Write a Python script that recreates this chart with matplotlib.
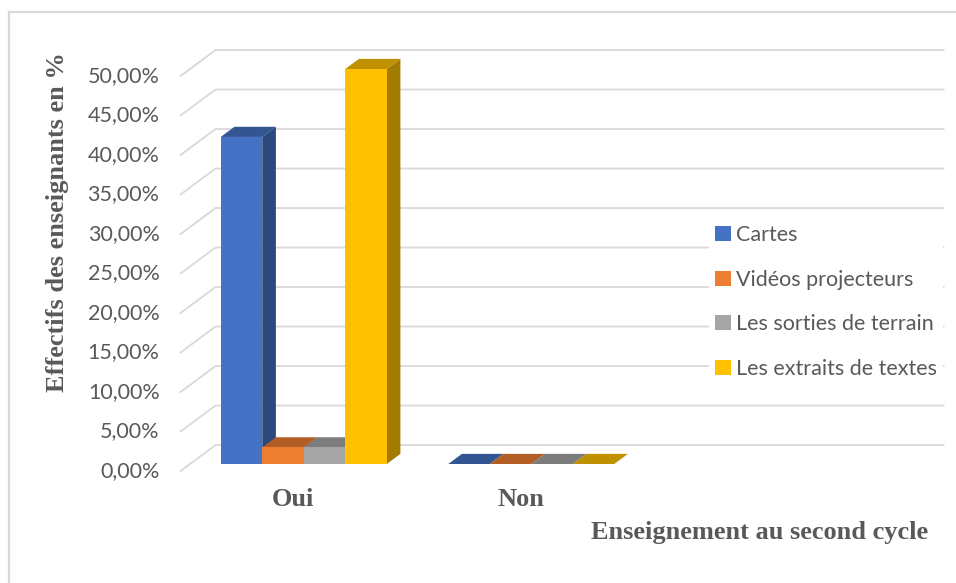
import numpy as np
import matplotlib.pyplot as plt
from matplotlib.patches import Polygon, Patch
from matplotlib.lines import Line2D
from matplotlib.transforms import IdentityTransform

categories = ['Oui', 'Non']
series_names = ['Cartes', 'Vidéos projecteurs', 'Les sorties de terrain',
                'Les extraits de textes']
cartes = [41.4, 0.0]
videos = [2.1, 0.0]
sorties = [2.1, 0.0]
extraits = [50.0, 0.0]
series_values = [cartes, videos, sorties, extraits]
colors = ['#4472C4', '#ED7D31', '#A5A5A5', '#FFC000']
yticks = np.arange(0, 55, 5)

W, H = 956, 583
GRID = '#d9d9d9'
TXT = '#595959'

# depth of the fake 3D box, in pixels (right, up) for the full floor depth
DX, DY = 35.0, 26.0
BAR_FRONT, BAR_BACK = 0.27, 0.66


def shade(c, f):
    r, g, b = plt.matplotlib.colors.to_rgb(c)
    return (r * f, g * f, b * f)


fig = plt.figure(figsize=(W / 100, H / 100), dpi=100)
ax = fig.add_axes([190 / W, 119 / H, (918 - 190) / W, 395 / H])
ax.set_xlim(-0.5, 2.7)
ax.set_ylim(0, 50)
ax.axis('off')
ident = IdentityTransform()


def proj(x, y, d):
    px, py = ax.transData.transform((x, y))
    return (px + (d - BAR_FRONT) * DX, py + (d - BAR_FRONT) * DY)


# chart frame (only the top and left edges are inside the picture)
fig.add_artist(Line2D([8.5 / W, 8.5 / W], [0, 1 - 12 / H], transform=fig.transFigure,
                      color=GRID, lw=1.6))
fig.add_artist(Line2D([8.5 / W, 1], [1 - 12 / H, 1 - 12 / H], transform=fig.transFigure,
                      color=GRID, lw=1.6))

# back wall gridlines and side wall diagonals
x0, x1 = ax.get_xlim()
for t in yticks:
    a = proj(x0, t, 0)
    b = proj(x0, t, 1)
    c = proj(x1, t, 1)
    ax.add_line(Line2D([a[0], b[0], c[0]], [a[1], b[1], c[1]], transform=ident,
                       color=GRID, lw=1.3, clip_on=False, zorder=1))
    ax.text(a[0] - 21, a[1], f'{t:.2f}%'.replace('.', ','), transform=ident,
            ha='right', va='center', fontsize=15.5, family='Lato', color=TXT)

# bars: top and side faces first, fronts drawn on top
bw = 41.5 / 227.5
xc = np.arange(len(categories))
for i, (vals, col) in enumerate(zip(series_values, colors)):
    xs = xc + (i - 1.5) * bw
    for x, v in zip(xs, vals):
        l, r = x - bw / 2, x + bw / 2
        top = [proj(l, v, BAR_FRONT), proj(r, v, BAR_FRONT),
               proj(r, v, BAR_BACK), proj(l, v, BAR_BACK)]
        side = [proj(r, 0, BAR_FRONT), proj(r, v, BAR_FRONT),
                proj(r, v, BAR_BACK), proj(r, 0, BAR_BACK)]
        ax.add_patch(Polygon(side, closed=True, transform=ident, facecolor=shade(col, 0.64),
                             edgecolor='none', clip_on=False, zorder=2))
        ax.add_patch(Polygon(top, closed=True, transform=ident, facecolor=shade(col, 0.75),
                             edgecolor='none', clip_on=False, zorder=2))
    ax.bar(xs, vals, width=bw, color=col, edgecolor='none', zorder=3, clip_on=False)

# category labels on the front edge of the floor
for x, lab in zip(xc, categories):
    px, py = proj(x, 0, 0)
    ax.text(px - 1, py - 28, lab, transform=ident, ha='center', va='center',
            fontsize=19, family='Liberation Serif', weight='bold', color=TXT)

fig.text(760 / W, 1 - 532 / H, 'Enseignement au second cycle', ha='center', va='center',
         fontsize=19, family='Liberation Serif', weight='bold', color=TXT)
fig.text(58 / W, 1 - 222 / H, 'Effectifs des enseignants en %', ha='center', va='center',
         rotation=90, fontsize=19, family='Liberation Serif', weight='bold', color=TXT)

handles = [Patch(facecolor=c, edgecolor='none') for c in colors]
leg = fig.legend(handles, series_names, loc='center left',
                 bbox_to_anchor=(709 / W, 1 - 302 / H), frameon=True, fancybox=False,
                 facecolor='white', edgecolor='none', framealpha=1,
                 handlelength=0.7, handleheight=0.7, handletextpad=0.25,
                 labelspacing=1.15, borderpad=0.3, borderaxespad=0,
                 prop={'family': 'Lato', 'size': 15.5})
for txt in leg.get_texts():
    txt.set_color(TXT)

fig.savefig('out.png', dpi=100)
